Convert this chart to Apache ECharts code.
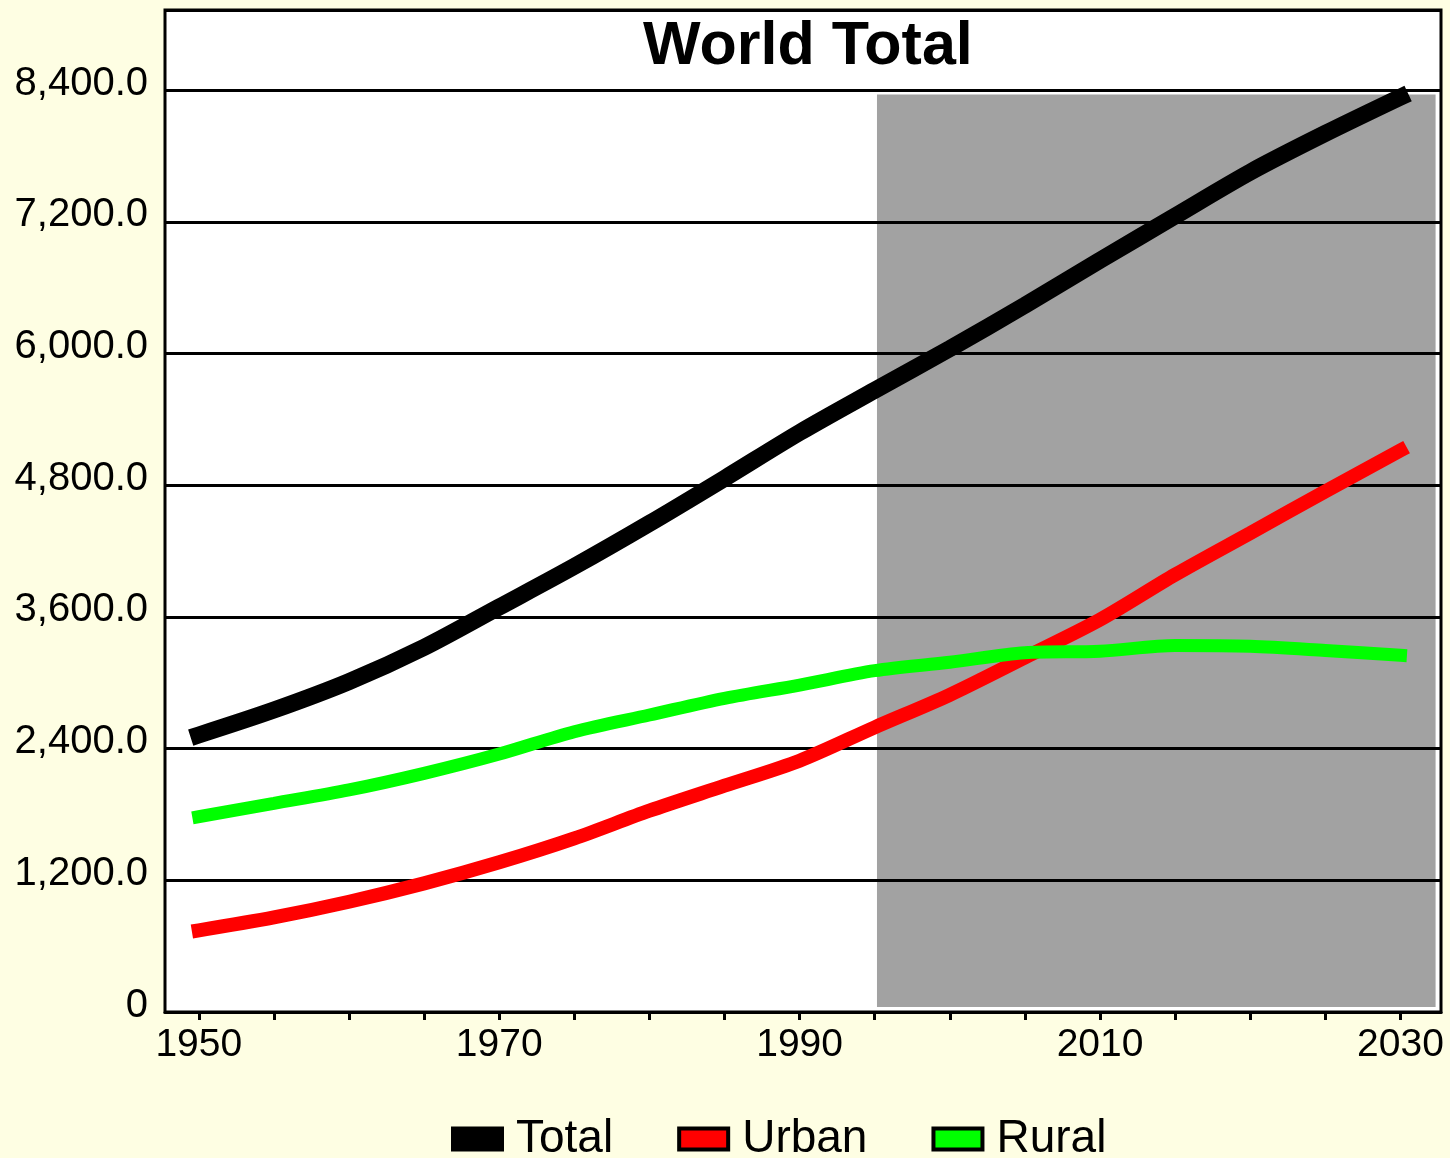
<!DOCTYPE html>
<html>
<head>
<meta charset="utf-8">
<title>World Total</title>
<script src="https://cdn.jsdelivr.net/npm/echarts@6/dist/echarts.min.js"></script>
<style>
  html, body { margin: 0; padding: 0; background: #fefee3; }
  #chart { width: 1450px; height: 1158px; }
</style>
</head>
<body>
<div id="chart"></div>
<script>
// population in millions
const years = [1950, 1955, 1960, 1965, 1970, 1975, 1980, 1985, 1990, 1995, 2000, 2005, 2010, 2015, 2020, 2025, 2030]
const total = [2524, 2751, 3010, 3322, 3690, 4060, 4452, 4862, 5280, 5665, 6045, 6440, 6850, 7253, 7653, 8005, 8336]
const urban = [744, 862, 1005, 1172, 1364, 1582, 1834, 2062, 2290, 2594, 2890, 3230, 3575, 3985, 4364, 4743, 5117]
const rural = [1780, 1901, 2023, 2174, 2350, 2554, 2706, 2858, 2979, 3110, 3187, 3274, 3287, 3339, 3332, 3294, 3250]

const tickYears = [1950, 1955, 1960, 1965, 1970, 1975, 1980, 1985, 1990, 1995, 2000, 2005, 2010, 2015, 2020, 2025, 2030]
const labelYears = [1950, 1970, 1990, 2010, 2030]

// projection period (shaded)
const projX = [1995.15, 2032.34]
const projY = [45, 8360]

const pair = (arr) => years.map((y, i) => [y, arr[i]])

const fmtY = (v) => {
  if (v === 0) return '0'
  return v.toLocaleString('en-US', { minimumFractionDigits: 1, maximumFractionDigits: 1 })
}

const chart = echarts.init(document.getElementById('chart'))

const lineSeries = (name, arr, color, width) => ({
  name,
  type: 'line',
  z: 3,
  data: pair(arr),
  smooth: 0.3,
  showSymbol: false,
  itemStyle: { color },
  lineStyle: { color, width, cap: 'square' }
})

chart.setOption({
  backgroundColor: '#fefee3',
  animation: false,
  title: {
    text: 'World Total',
    left: 638,
    top: 12,
    textStyle: {
      fontFamily: 'Liberation Sans, Arial, sans-serif',
      fontSize: 61,
      fontWeight: 'bold',
      color: '#000'
    }
  },
  legend: {
    data: ['Total', 'Urban', 'Rural'],
    left: 446,
    top: 1111,
    icon: 'rect',
    itemWidth: 49,
    itemHeight: 21,
    itemGap: 64,
    itemStyle: { borderColor: '#000', borderWidth: 4 },
    textStyle: {
      fontFamily: 'Liberation Sans, Arial, sans-serif',
      fontSize: 46,
      color: '#000',
      padding: [0, 0, 0, 9]
    }
  },
  grid: {
    show: true,
    left: 165,
    top: 10,
    width: 1276,
    height: 1002,
    backgroundColor: '#fff',
    borderColor: '#000',
    borderWidth: 3
  },
  xAxis: {
    type: 'value',
    min: 1947.75,
    max: 2032.7,
    z: 2,
    splitLine: { show: false },
    axisLine: { show: true, onZero: false, lineStyle: { color: '#000', width: 3 } },
    axisTick: {
      show: true,
      customValues: tickYears,
      length: 8,
      lineStyle: { color: '#000', width: 3 }
    },
    axisLabel: {
      customValues: labelYears,
      margin: 14,
      fontFamily: 'Liberation Sans, Arial, sans-serif',
      fontSize: 39,
      color: '#000',
      formatter: (v) => String(v)
    }
  },
  yAxis: {
    type: 'value',
    min: 0,
    max: 9130,
    interval: 1200,
    z: 2,
    axisLine: { show: false },
    axisTick: { show: false },
    splitLine: { show: true, lineStyle: { color: '#000', width: 3 } },
    axisLabel: {
      showMaxLabel: false,
      margin: 17,
      fontFamily: 'Liberation Sans, Arial, sans-serif',
      fontSize: 40,
      color: '#000',
      verticalAlign: 'bottom',
      lineHeight: 13,
      formatter: fmtY
    }
  },
  series: [
    {
      name: 'projection',
      type: 'line',
      z: 1,
      data: [[projX[0], projY[1]], [projX[1], projY[1]]],
      showSymbol: false,
      lineStyle: { width: 0 },
      areaStyle: { color: '#a2a2a2', opacity: 1, origin: projY[0] },
      silent: true
    },
    lineSeries('Total', total, '#000000', 17),
    lineSeries('Urban', urban, '#ff0000', 14),
    lineSeries('Rural', rural, '#00ff00', 13)
  ]
})
</script>
</body>
</html>
